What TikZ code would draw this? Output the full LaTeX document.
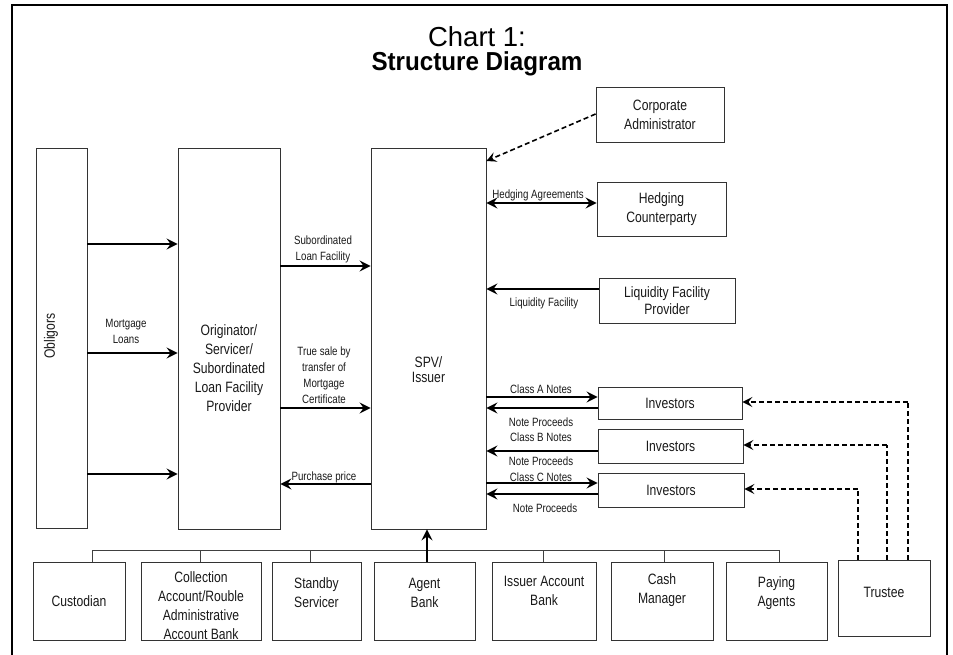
\documentclass[tikz,border=0pt]{standalone}
\usepackage{fontspec}
\setmainfont{Liberation Sans}
\newfontfamily\narrow{Liberation Sans}[FakeStretch=0.81]
\newfontfamily\titlebold{Liberation Sans}[FakeStretch=0.93]
\usetikzlibrary{arrows.meta}
\begin{document}
\begin{tikzpicture}[x=1pt,y=-1pt,
  box/.style={draw=black!80, line width=0.8pt, inner sep=0pt},
  btext/.style={font=\narrow\fontsize{15}{19}\selectfont, align=center, text=black!90},
  ltext/.style={font=\narrow\fontsize{12}{16}\selectfont, align=center, text=black!90, inner sep=0pt},
  arr/.style={line width=1.8pt, -{Stealth[length=11pt,width=11pt,inset=4pt]}},
  darr/.style={line width=1.8pt, {Stealth[length=11pt,width=11pt,inset=4pt]}-{Stealth[length=11pt,width=11pt,inset=4pt]}},
  dasharr/.style={line width=1.6pt, dash pattern=on 5pt off 3pt, -{Stealth[length=10pt,width=10pt,inset=4pt]}},
  dline/.style={line width=1.6pt, dash pattern=on 5pt off 3pt},
  bus/.style={line width=0.9pt, draw=black!75},
  frame/.style={line width=2.6pt}]
\useasboundingbox (0,0) rectangle (953,655);
% frame
\draw[frame] (12,656) -- (12,5) -- (947,5) -- (947,656);
% title
\node[font=\fontsize{27.5}{30}\selectfont] (t1) at (477,37) {Chart 1:};
\node[font=\titlebold\bfseries\fontsize{26}{28}\selectfont] (t2) at (477,64) {Structure Diagram};
% main boxes
\node[box, minimum width=51, minimum height=380] (obl) at (61.5,338) {};
\node[btext, rotate=90] (oblT) at (51,336) {Obligors};
\node[box, minimum width=102, minimum height=381,
  label={[btext, yshift=-29.5pt]center:Originator/\\Servicer/\\Subordinated\\Loan Facility\\Provider}] (orig) at (229,338.5) {};
\node[box, minimum width=115, minimum height=381,
  label={[btext, yshift=-31.5pt, font=\narrow\fontsize{15}{15}\selectfont]center:SPV/\\Issuer}] (spv) at (428.5,338.5) {};
% right boxes
\node[box, btext, minimum width=128, minimum height=55] (corp) at (660,114.5) {Corporate\\Administrator};
\node[box, btext, minimum width=129, minimum height=54] (hedge) at (661.5,209) {Hedging\\Counterparty};
\node[box, btext, minimum width=136, minimum height=45, font=\narrow\fontsize{15}{17}\selectfont] (liq) at (667,300.5) {Liquidity Facility\\Provider};
\node[box, btext, minimum width=144, minimum height=32] (invA) at (670,403) {Investors};
\node[box, btext, minimum width=145, minimum height=34] (invB) at (670.5,446) {Investors};
\node[box, btext, minimum width=146, minimum height=34] (invC) at (671,490) {Investors};
% bottom boxes
\node[box, minimum width=92, minimum height=78, label={[btext]center:Custodian}] (cust) at (79,601) {};
\node[box, minimum width=120, minimum height=78, label={[btext, yshift=-4.5pt]center:Collection\\Account/Rouble\\Administrative\\Account Bank}] (coll) at (201,601) {};
\node[box, minimum width=89, minimum height=78, label={[btext, yshift=8.5pt]center:Standby\\Servicer}] (stby) at (316.5,601) {};
\node[box, minimum width=101, minimum height=78, label={[btext, yshift=8pt]center:Agent\\Bank}] (agent) at (424.5,601) {};
\node[box, minimum width=104, minimum height=78, label={[btext, yshift=10pt]center:Issuer Account\\Bank}] (iab) at (544,601) {};
\node[box, minimum width=102, minimum height=78, label={[btext, yshift=10.5pt]center:Cash\\Manager}] (cash) at (662,601) {};
\node[box, minimum width=101, minimum height=78, label={[btext, yshift=8pt]center:Paying\\Agents}] (pay) at (776.5,601) {};
\node[box, minimum width=92, minimum height=76, label={[btext, yshift=6pt]center:Trustee}] (trus) at (884,598) {};
% obligors -> originator
\draw[arr] (obl.east |- 0,244) -- (orig.west |- 0,244);
\draw[arr] (obl.east |- 0,353) -- (orig.west |- 0,353);
\draw[arr] (obl.east |- 0,474) -- (orig.west |- 0,474);
\node[ltext] (mlT) at (126,331) {Mortgage\\Loans};
% originator <-> spv
\draw[arr] (orig.east |- 0,266) -- (spv.west |- 0,266);
\node[ltext] (slfT) at (323,249) {Subordinated\\Loan Facility};
\draw[arr] (orig.east |- 0,408) -- (spv.west |- 0,408);
\node[ltext] (tsT) at (324,375) {True sale by\\transfer of\\Mortgage\\Certificate};
\draw[arr] (spv.west |- 0,484) -- (orig.east |- 0,484);
\node[ltext] (ppT) at (324,477.5) {Purchase price};
% right side
\draw[dasharr] (corp.west |- 0,114) -- (spv.east |- 0,161);
\draw[darr] (spv.east |- 0,203) -- (hedge.west |- 0,203);
\node[ltext] (haT) at (538,195) {Hedging Agreements};
\draw[arr] (liq.west |- 0,289) -- (spv.east |- 0,289);
\node[ltext] (lfT) at (544,303) {Liquidity Facility};
% investors
\draw[arr] (spv.east |- 0,397) -- (invA.west |- 0,397);
\draw[arr] (invA.west |- 0,408) -- (spv.east |- 0,408);
\node[ltext] (caT) at (541,389) {Class A Notes};
\node[ltext] (npA) at (541,422) {Note Proceeds};
\draw[arr] (invB.west |- 0,451) -- (spv.east |- 0,451);
\node[ltext] (cbT) at (541,437) {Class B Notes};
\node[ltext] (npB) at (541,461.5) {Note Proceeds};
\draw[arr] (spv.east |- 0,483) -- (invC.west |- 0,483);
\draw[arr] (invC.west |- 0,494) -- (spv.east |- 0,494);
\node[ltext] (ccT) at (541,477) {Class C Notes};
\node[ltext] (npC) at (545,508) {Note Proceeds};
% trustee dashed
\draw[dline] (trus.north -| 908,0) -- (908,402);
\draw[dasharr] (908,402) -- (invA.east |- 0,402);
\draw[dline] (trus.north -| 887,0) -- (887,445);
\draw[dasharr] (887,445) -- (invB.east |- 0,445);
\draw[dline] (trus.north -| 858,0) -- (858,489);
\draw[dasharr] (858,489) -- (invC.east |- 0,489);
% bus
\coordinate (busL) at (92,550);
\coordinate (busR) at (779,550);
\draw[bus] (cust.north -| busL) -- (busL) -- (busR) -- (pay.north -| busR);
\draw[bus] (coll.north -| 200,0) -- (200,550);
\draw[bus] (stby.north -| 310,0) -- (310,550);
\draw[bus] (iab.north -| 543,0) -- (543,550);
\draw[bus] (cash.north -| 664,0) -- (664,550);
\draw[arr] (agent.north -| 427,0) -- (spv.south -| 427,0);
\end{tikzpicture}
\end{document}
